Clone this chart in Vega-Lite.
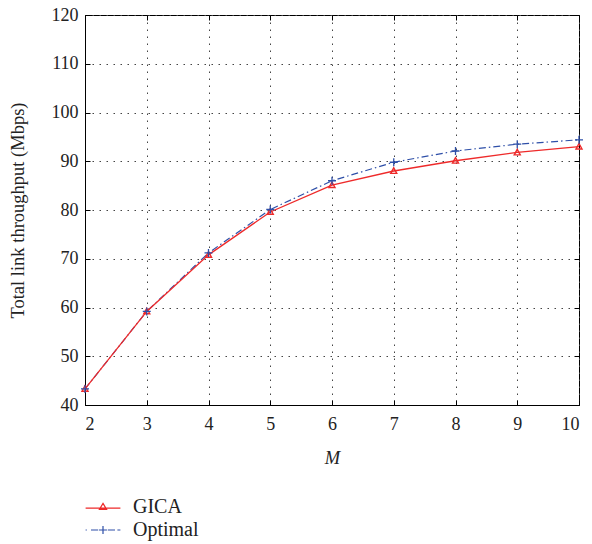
{
  "$schema": "https://vega.github.io/schema/vega-lite/v6.json",
  "width": 494,
  "height": 390,
  "autosize": "none",
  "padding": {"left": 85, "top": 15, "right": 13, "bottom": 139},
  "background": "white",
  "config": {
    "view": {"stroke": "black", "strokeWidth": 1},
    "font": "Liberation Serif",
    "axis": {
      "labelFont": "Liberation Serif",
      "titleFont": "Liberation Serif",
      "labelFontSize": 18,
      "titleFontSize": 18.5,
      "labelColor": "#222",
      "titleColor": "#222",
      "titleFontWeight": "normal",
      "domainColor": "black",
      "tickColor": "black",
      "gridColor": "#444",
      "gridDash": [1.5, 5.5],
      "gridWidth": 1
    },
    "legend": {
      "labelFont": "Liberation Serif",
      "labelFontSize": 20,
      "labelColor": "#222"
    }
  },
  "data": {
    "values": [
      {"M": 2, "series": "GICA", "T": 43.3},
      {"M": 3, "series": "GICA", "T": 59.2},
      {"M": 4, "series": "GICA", "T": 70.8},
      {"M": 5, "series": "GICA", "T": 79.6},
      {"M": 6, "series": "GICA", "T": 85.1},
      {"M": 7, "series": "GICA", "T": 88.0},
      {"M": 8, "series": "GICA", "T": 90.1},
      {"M": 9, "series": "GICA", "T": 91.8},
      {"M": 10, "series": "GICA", "T": 93.0},
      {"M": 2, "series": "Optimal", "T": 43.3},
      {"M": 3, "series": "Optimal", "T": 59.2},
      {"M": 4, "series": "Optimal", "T": 71.2},
      {"M": 5, "series": "Optimal", "T": 80.1},
      {"M": 6, "series": "Optimal", "T": 86.0},
      {"M": 7, "series": "Optimal", "T": 89.8},
      {"M": 8, "series": "Optimal", "T": 92.1},
      {"M": 9, "series": "Optimal", "T": 93.5},
      {"M": 10, "series": "Optimal", "T": 94.4}
    ]
  },
  "encoding": {
    "x": {"field": "M", "type": "quantitative", "scale": {"domain": [2, 10], "nice": false, "zero": false}, "axis": null},
    "y": {"field": "T", "type": "quantitative", "scale": {"domain": [40, 120], "nice": false, "zero": false}, "axis": null}
  },
  "layer": [
    {
      "mark": {"type": "point", "opacity": 0},
      "encoding": {
        "x": {"field": "M", "type": "quantitative", "scale": {"domain": [2, 10], "nice": false, "zero": false}, "axis": {"orient": "top", "values": [2,3,4,5,6,7,8,9,10], "labels": false, "title": null, "grid": false, "domain": false, "tickSize": -5}},
        "y": {"field": "T", "type": "quantitative", "scale": {"domain": [40, 120], "nice": false, "zero": false}, "axis": {"orient": "right", "values": [40,50,60,70,80,90,100,110,120], "labels": false, "title": null, "grid": false, "domain": false, "tickSize": -5}}
      }
    },
    {
      "transform": [{"filter": "datum.series === 'Optimal'"}],
      "mark": {"type": "line", "color": "#2e4fa8", "strokeWidth": 1.2, "strokeDash": [7, 3, 1.5, 3]},
      "encoding": {
        "x": {"field": "M", "type": "quantitative", "scale": {"domain": [2, 10], "nice": false, "zero": false}, "axis": {"orient": "bottom", "values": [2,3,4,5,6,7,8,9,10], "title": "M", "titleFontStyle": "italic", "grid": true, "tickSize": -5, "labelPadding": 15, "titlePadding": 15}},
        "y": {"field": "T", "type": "quantitative", "scale": {"domain": [40, 120], "nice": false, "zero": false}, "axis": {"orient": "left", "values": [40,50,60,70,80,90,100,110,120], "title": "Total link throughput (Mbps)", "grid": true, "tickSize": -5, "labelPadding": 12, "titlePadding": 24}}
      }
    },
    {
      "transform": [{"filter": "datum.series === 'GICA'"}],
      "mark": {"type": "line", "color": "#ee2a2a", "strokeWidth": 1.3}
    },
    {
      "transform": [{"filter": "datum.series === 'GICA'"}],
      "mark": {"type": "point", "shape": "M0,-1L0.95,0.75H-0.95Z", "size": 40, "filled": false, "color": "#ee2a2a", "strokeWidth": 1.4, "opacity": 1}
    },
    {
      "transform": [{"filter": "datum.series === 'Optimal'"}],
      "mark": {"type": "point", "shape": "M-1,0H1M0,-1V1", "size": 64, "filled": false, "color": "#2e4fa8", "strokeWidth": 1.3, "opacity": 1}
    },
    {
      "mark": {"type": "point", "opacity": 0, "filled": false},
      "encoding": {
        "color": {"field": "series", "type": "nominal", "scale": {"domain": ["GICA", "Optimal"], "range": ["#ee2a2a", "#2e4fa8"]}, "legend": {"orient": "none", "legendX": 5, "legendY": 479, "title": null, "symbolOpacity": 1, "symbolStrokeWidth": 1.2, "symbolSize": 576, "labelOffset": 17, "rowPadding": 0, "symbolFillColor": "transparent"}},
        "shape": {"field": "series", "type": "nominal", "scale": {"domain": ["GICA", "Optimal"], "range": ["M-1.45,0.1H1.45M0,-0.3L0.3,0.2H-0.3Z", "M-1.45,0H-1.35M-1.0,0H-0.4M0.4,0H1.0M1.2,0H1.45M0,-0.33V0.33M-0.33,0H0.33"]}, "legend": {"orient": "none", "legendX": 5, "legendY": 479, "title": null, "symbolOpacity": 1, "symbolStrokeWidth": 1.2, "symbolSize": 576, "labelOffset": 17, "rowPadding": 0, "symbolFillColor": "transparent"}}
      }
    }
  ],
  "resolve": {"axis": {"x": "independent", "y": "independent"}}
}
